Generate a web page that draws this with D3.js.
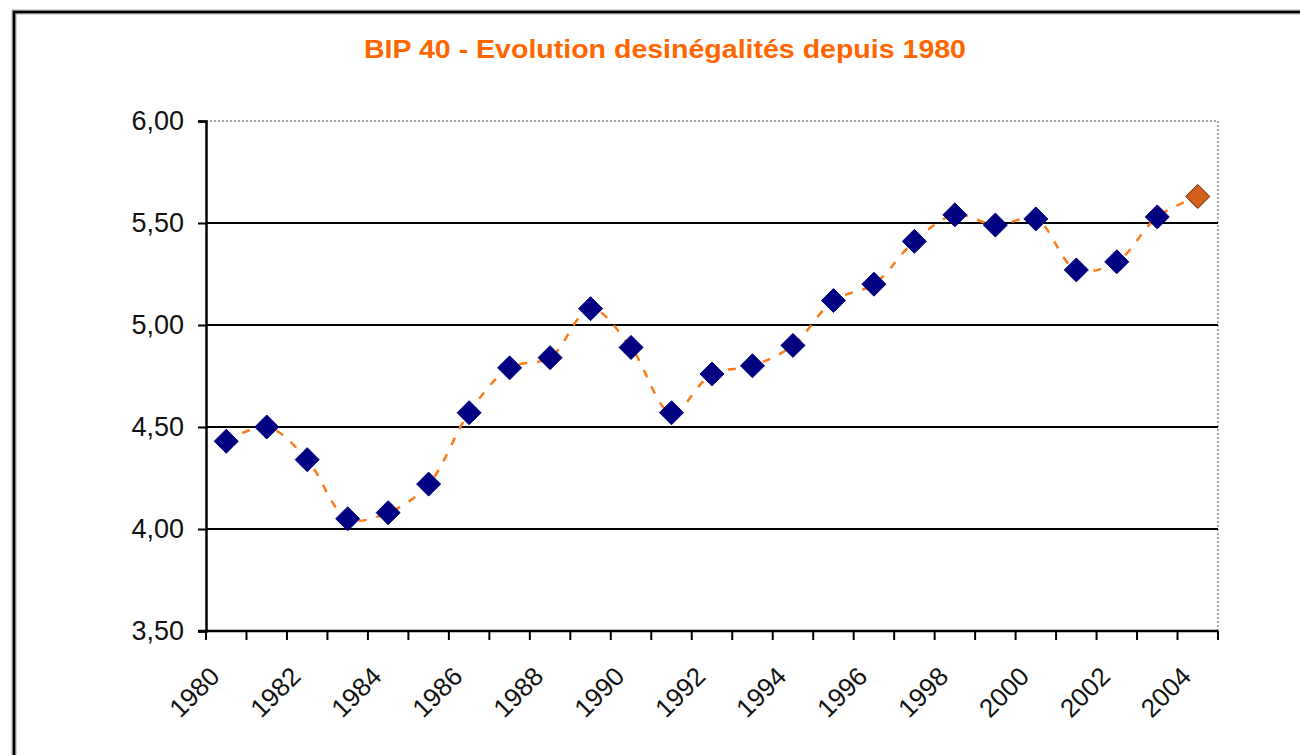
<!DOCTYPE html>
<html>
<head>
<meta charset="utf-8">
<script src="https://cdn.jsdelivr.net/npm/d3@7"></script>
<style>
  body { margin: 0; background: #fff; }
  svg { display: block; font-family: "Liberation Sans", Arial, sans-serif; }
</style>
</head>
<body>
<div id="chart"></div>
<script>
(function () {
    'use strict';
    var width = 1300;
    var height = 755;

    var years = [1980, 1981, 1982, 1983, 1984, 1985, 1986, 1987, 1988, 1989, 1990, 1991, 1992,
        1993, 1994, 1995, 1996, 1997, 1998, 1999, 2000, 2001, 2002, 2003, 2004];
    var bip40 = [4.43, 4.50, 4.34, 4.05, 4.08, 4.22, 4.57, 4.79, 4.84, 5.08, 4.89, 4.57, 4.76,
        4.80, 4.90, 5.12, 5.20, 5.41, 5.54, 5.49, 5.52, 5.27, 5.31, 5.53, 5.63];
    var yTicks = [3.5, 4.0, 4.5, 5.0, 5.5, 6.0];
    var title = 'BIP 40 - Evolution desinégalités depuis 1980';

    var left = 206, right = 1218, top = 121, bottom = 631;

    var svg = d3.select('#chart')
        .append('svg')
        .attr('width', width)
        .attr('height', height);

    // outer frame of the chart object
    svg.append('rect')
        .attr('x', 14).attr('y', 12)
        .attr('width', width + 20).attr('height', height + 20)
        .attr('fill', 'none').attr('stroke', '#aaa').attr('stroke-width', 5);
    svg.append('rect')
        .attr('x', 14).attr('y', 12)
        .attr('width', width + 20).attr('height', height + 20)
        .attr('fill', 'none').attr('stroke', '#000').attr('stroke-width', 2.5);

    svg.append('text')
        .attr('x', 665).attr('y', 58)
        .attr('text-anchor', 'middle')
        .attr('font-size', 25)
        .attr('font-weight', 'bold')
        .attr('fill', '#ff6600')
        .attr('textLength', 602)
        .attr('lengthAdjust', 'spacingAndGlyphs')
        .text(title);

    var x = d3.scaleBand().domain(years).range([left, right]);
    var y = d3.scaleLinear().domain([3.5, 6.0]).range([bottom, top]);
    var fmt = function (v) { return d3.format('.2f')(v).replace('.', ','); };

    // plot area border (dotted top / right)
    svg.append('path')
        .attr('d', 'M' + left + ',' + top + 'H' + right + 'V' + bottom)
        .attr('fill', 'none').attr('stroke', '#888')
        .attr('stroke-width', 1.5).attr('stroke-dasharray', '2,2');

    // gridlines
    svg.append('g')
        .selectAll('line')
        .data(yTicks.filter(function (d) { return d > 3.5 && d < 6.0; }))
        .enter().append('line')
        .attr('x1', left).attr('x2', right)
        .attr('y1', function (d) { return y(d); })
        .attr('y2', function (d) { return y(d); })
        .attr('stroke', '#000').attr('stroke-width', 2);

    // y axis
    var yAxis = svg.append('g')
        .attr('transform', 'translate(' + left + ',0)')
        .call(d3.axisLeft(y).tickValues(yTicks).tickFormat(fmt).tickSize(8).tickPadding(14));
    yAxis.select('.domain').attr('stroke-width', 2.5);
    yAxis.selectAll('.tick line').attr('stroke-width', 2);
    yAxis.selectAll('text')
        .attr('font-size', 27)
        .attr('font-family', '"Liberation Sans", Arial, sans-serif')
        .attr('fill', '#111');

    // x axis: tick marks at category boundaries
    var bounds = years.map(function (d) { return x(d); }).concat([right]);
    svg.append('line')
        .attr('x1', left - 8).attr('x2', right)
        .attr('y1', bottom).attr('y2', bottom)
        .attr('stroke', '#000').attr('stroke-width', 2.5);
    svg.append('g')
        .selectAll('line')
        .data(bounds)
        .enter().append('line')
        .attr('x1', function (d) { return d; }).attr('x2', function (d) { return d; })
        .attr('y1', bottom).attr('y2', bottom + 9)
        .attr('stroke', '#000').attr('stroke-width', 2);

    svg.append('g')
        .selectAll('text')
        .data(years.filter(function (d, i) { return i % 2 === 0; }))
        .enter().append('text')
        .attr('transform', function (d) {
            return 'translate(' + (x(d) + x.bandwidth() / 2 - 5) + ',' + (bottom + 47) + ') rotate(-45)';
        })
        .attr('text-anchor', 'end')
        .attr('font-size', 26)
        .attr('fill', '#111')
        .text(function (d) { return d; });

    // smoothed dashed line
    var line = d3.line()
        .x(function (d, i) { return x(years[i]) + x.bandwidth() / 2; })
        .y(function (d) { return y(d); })
        .curve(d3.curveCatmullRom.alpha(0.5));
    svg.append('path')
        .datum(bip40)
        .attr('d', line)
        .attr('fill', 'none')
        .attr('stroke', '#ff7a1a')
        .attr('stroke-width', 2.5)
        .attr('stroke-dasharray', '8,10');

    // diamond markers
    var r = 12;
    svg.append('g')
        .selectAll('path')
        .data(bip40)
        .enter().append('path')
        .attr('transform', function (d, i) {
            return 'translate(' + (x(years[i]) + x.bandwidth() / 2) + ',' + y(d) + ')';
        })
        .attr('d', 'M0,' + (-r) + 'L' + r + ',0L0,' + r + 'L' + (-r) + ',0Z')
        .attr('fill', function (d, i) { return i === bip40.length - 1 ? '#d2601a' : '#000080'; })
        .attr('stroke', function (d, i) { return i === bip40.length - 1 ? '#5a2000' : '#000080'; })
        .attr('stroke-width', 1);
}());
</script>
</body>
</html>
